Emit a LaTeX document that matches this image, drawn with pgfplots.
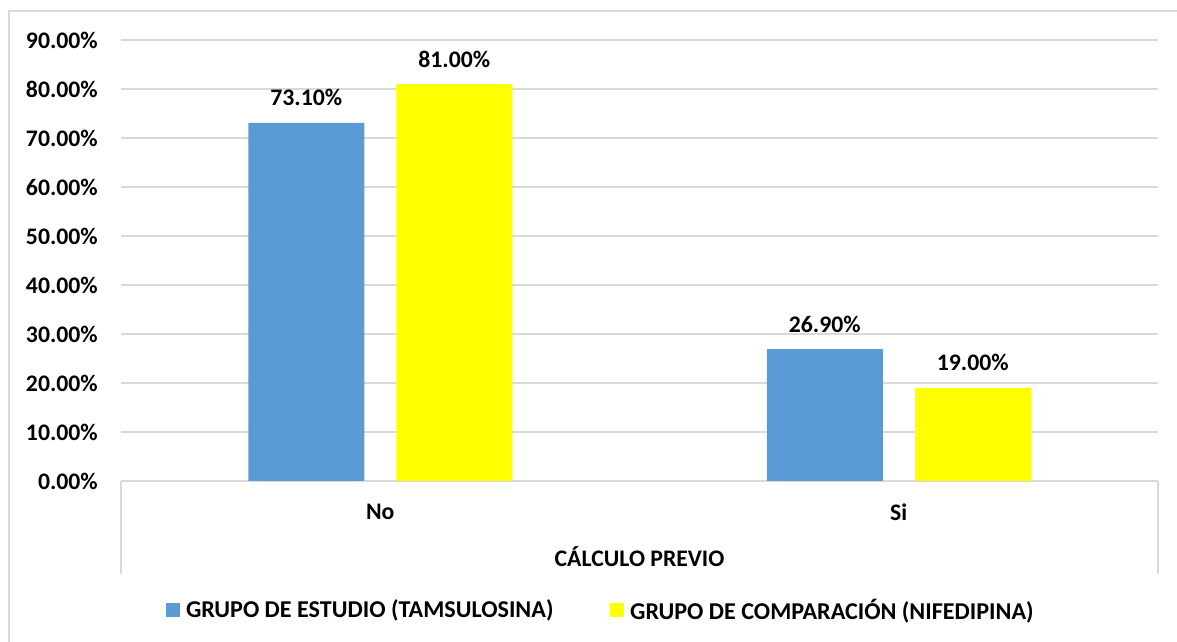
\documentclass[border=0pt]{standalone}
\usepackage{pgfplots}
\pgfplotsset{compat=1.18}
\usepackage{fontspec}
\setmainfont{Carlito}
\definecolor{bblue}{HTML}{5B9BD5}
\definecolor{yel}{HTML}{FFFF00}
\definecolor{gr}{HTML}{D9D9D9}
\newcommand{\cf}{\fontsize{17.8}{21}\selectfont\bfseries}
\newcommand{\lf}{\fontsize{18.1}{21}\selectfont\bfseries}
\begin{document}
\begin{tikzpicture}
\path[use as bounding box] (0,0) rectangle (882.75pt,481.5pt);
\draw[gr, line width=1.5pt] (6.4pt,0) -- (6.4pt,473.25pt) -- (882.75pt,473.25pt);
\begin{axis}[
  at={(90.75pt,120.75pt)}, anchor=south west,
  width=777.75pt, height=330.75pt, scale only axis,
  xmin=-0.5, xmax=1.5, ymin=0, ymax=90,
  ybar, bar width=87pt,
  xtick={0,1}, xticklabels={No,Si},
  ytick={0,10,...,90},
  yticklabel={\pgfmathprintnumber[fixed,fixed zerofill,precision=2]{\tick}\%},
  /pgf/number format/assume math mode=true,
  major tick length=0pt,
  axis line style={draw=none},
  ymajorgrids, grid style={gr, line width=1.2pt},
  tick label style={font=\cf, text=black},
  yticklabel style={anchor=east, inner sep=0pt, xshift=-17.25pt},
  xticklabel style={anchor=center, inner sep=0pt, yshift=-23.25pt},
  xlabel={CÁLCULO PREVIO},
  xlabel style={font=\cf, at={(axis description cs:0.5,0)}, anchor=center, yshift=-57pt},
  nodes near coords={\pgfmathprintnumber[fixed,fixed zerofill,precision=2]{\pgfplotspointmeta}\%},
  every node near coord/.append style={font=\cf, text=black, anchor=center, inner sep=0pt, yshift=18.75pt},
  legend style={at={(axis description cs:0.0434,-0.2925)}, anchor=west, draw=none, inner sep=0pt, outer sep=0pt,
    font=\lf, legend columns=2,
    nodes={inner sep=0pt, inner xsep=4.5pt},
    /tikz/every even column/.append style={column sep=38pt}},
  legend image code/.code={\fill[#1] (0pt,-5.25pt) rectangle (10.5pt,5.25pt);},
  clip=false,
]
\addplot[fill=bblue, draw=none, bar shift=-55.5pt] coordinates {(0,73.1) (1,26.9)};
\addlegendentry{GRUPO DE ESTUDIO (TAMSULOSINA)}
\addplot[fill=yel, draw=none, bar shift=55.5pt] coordinates {(0,81.0) (1,19.0)};
\addlegendentry{GRUPO DE COMPARACIÓN (NIFEDIPINA)}
\draw[gr, line width=1.2pt] (rel axis cs:0,0) -- ++(0pt,-69.75pt);
\draw[gr, line width=1.2pt] (rel axis cs:1,0) -- ++(0pt,-69.75pt);
\end{axis}
\end{tikzpicture}
\end{document}
